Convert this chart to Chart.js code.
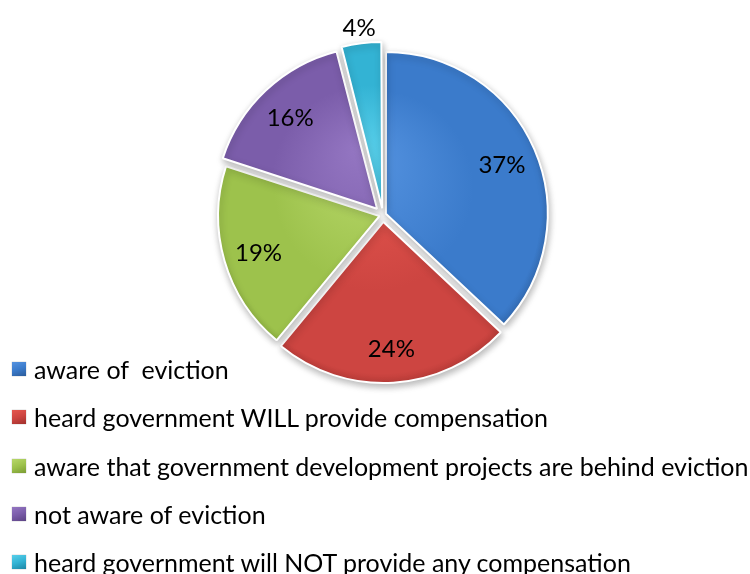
<!DOCTYPE html>
<html lang="en">
<head>
    <meta charset="UTF-8">
    <title>Eviction awareness</title>
    <script src="https://cdn.jsdelivr.net/npm/chart.js"></script>
    <style>
        body { margin: 0; background: #fff; }
        .wrap { position: relative; width: 750px; height: 574px; overflow: hidden; }
        #evictionChart { position: absolute; left: 0; top: 0; }
        /* legend sits over the lower left of the canvas, like the original */
        .legend {
            position: absolute; left: 12px; top: 345px;
            margin: 0; padding: 0; list-style: none;
            font-family: Lato, sans-serif; font-size: 25px; color: #000;
        }
        .legend li { height: 48.3px; display: flex; align-items: center; white-space: pre; }
        .legend .box { width: 14px; height: 14px; margin-right: 8px; flex: none; box-shadow: 0 0 1px rgba(0,0,0,0.4); }
    </style>
</head>
<body>
    <div class="wrap">
        <canvas id="evictionChart" width="750" height="574"></canvas>
        <ul class="legend" id="legend"></ul>
    </div>

    <script>
        const labels = [
            'aware of  eviction',
            'heard government WILL provide compensation',
            'aware that government development projects are behind eviction',
            'not aware of eviction',
            'heard government will NOT provide any compensation'
        ];
        const shares = [37, 24, 19, 16, 4];

        // slice colours: light / base / dark for the bevel look
        const lightColors = ['#5593e0', '#e6574f', '#b8d86a', '#9476c2', '#58cfea'];
        const baseColors  = ['#3b7bcb', '#cd4541', '#9dc24c', '#7b5daa', '#33b3d4'];
        const darkColors  = ['#2b5b9a', '#a0302c', '#7b9c33', '#5c4384', '#1e86a4'];
        const explodePx = [4, 7, 4, 10, 12];   // how far each slice is pulled out, in px
        const pieRadius = 161;

        // chart.js v4 uses offset/4 plus a small-slice fix, so undo that here
        const total = shares.reduce((a, b) => a + b, 0);
        const sliceOffsets = shares.map((v, i) => {
            const circ = v / total * Math.PI * 2;
            const fix = 1 - Math.sin(Math.min(Math.PI, circ));
            return 4 * explodePx[i] / (1 + fix);
        });

        function sliceFill(context) {
            const chart = context.chart;
            const area = chart.chartArea;
            const i = context.dataIndex;
            if (!area) return baseColors[i];
            const cx = (area.left + area.right) / 2;
            const cy = (area.top + area.bottom) / 2;
            const g = chart.ctx.createRadialGradient(cx - 20, cy - 60, 0, cx, cy, pieRadius + 14);
            g.addColorStop(0, lightColors[i]);
            g.addColorStop(0.55, baseColors[i]);
            g.addColorStop(0.9, baseColors[i]);
            g.addColorStop(1, darkColors[i]);
            return g;
        }

        const shadowPlugin = {
            id: 'shadow',
            beforeDatasetsDraw(chart) {
                const c = chart.ctx;
                c.save();
                c.shadowColor = 'rgba(0,0,0,0.28)';
                c.shadowBlur = 7;
                c.shadowOffsetX = 1;
                c.shadowOffsetY = 3;
            },
            afterDatasetsDraw(chart) {
                chart.ctx.restore();
            }
        };

        const labelPlugin = {
            id: 'sliceLabels',
            afterDatasetsDraw(chart) {
                const c = chart.ctx;
                const meta = chart.getDatasetMeta(0);
                c.save();
                c.font = '24px Lato, sans-serif';
                c.fillStyle = '#000';
                c.textAlign = 'center';
                c.textBaseline = 'middle';
                meta.data.forEach((arc, i) => {
                    const p = arc.getProps(['x', 'y', 'startAngle', 'endAngle', 'outerRadius'], true);
                    const mid = (p.startAngle + p.endAngle) / 2;
                    const off = explodePx[i];
                    // tiny slices get their label outside
                    const r = shares[i] < 5 ? p.outerRadius + off + 17 : p.outerRadius * 0.78 + off;
                    c.fillText(shares[i] + '%', p.x + Math.cos(mid) * r, p.y + Math.sin(mid) * r + 2);
                });
                c.restore();
            }
        };

        const ctx = document.getElementById('evictionChart').getContext('2d');
        const evictionChart = new Chart(ctx, {
            type: 'pie',
            data: {
                labels: labels,
                datasets: [{
                    data: shares,
                    backgroundColor: sliceFill,
                    borderWidth: 2,
                    borderColor: '#ffffff',
                    offset: sliceOffsets,
                    hoverOffset: 0
                }]
            },
            options: {
                responsive: false,
                animation: false,
                radius: pieRadius,
                layout: { padding: { left: 16, right: 0, top: 0, bottom: 144 } },
                plugins: {
                    legend: { display: false },
                    tooltip: { enabled: false }
                }
            },
            plugins: [shadowPlugin, labelPlugin]
        });

        // html legend built from the same arrays
        const legendEl = document.getElementById('legend');
        labels.forEach((text, i) => {
            const li = document.createElement('li');
            const box = document.createElement('span');
            box.className = 'box';
            box.style.background = 'linear-gradient(160deg, ' + lightColors[i] + ', ' + baseColors[i] + ' 50%, ' + darkColors[i] + ')';
            li.appendChild(box);
            li.appendChild(document.createTextNode(text));
            legendEl.appendChild(li);
        });
    </script>
</body>
</html>
